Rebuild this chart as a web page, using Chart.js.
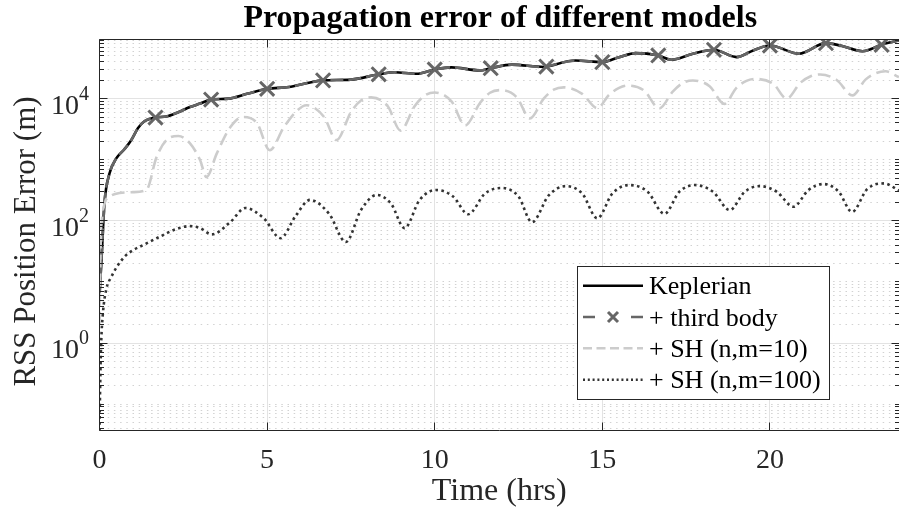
<!DOCTYPE html>
<html>
<head>
<meta charset="utf-8">
<script src="https://cdn.jsdelivr.net/npm/chart.js@4.4.1/dist/chart.umd.min.js"></script>
<style>
  html, body { margin: 0; padding: 0; background: #fff; }
  #plot { display: block; }
</style>
</head>
<body>
<canvas id="plot" width="899" height="517"></canvas>
<script>
// values (time in hours, error in metres)
const keplerTime = [0, 0.03, 0.07, 0.15, 0.3, 0.5, 0.75, 0.95, 1.15, 1.35, 1.67, 2.0, 2.35, 2.7, 3.0, 3.33, 3.85, 4.4, 5.0, 5.65, 6.2, 6.67, 7.5, 8.33, 8.8, 9.45, 10.0, 10.5, 11.35, 11.67, 12.3, 13.25, 13.33, 14.2, 15.0, 15.5, 16.0, 16.67, 17.05, 17.7, 18.33, 19.0, 19.5, 20.0, 20.87, 21.67, 22.1, 22.76, 23.33, 23.85];
const keplerErr = [6, 12, 30, 200, 600, 1050, 1500, 2100, 3300, 4300, 4900, 5100, 6000, 7300, 8300, 9650, 10000, 12000, 14500, 15500, 18000, 19900, 20500, 25000, 27000, 25500, 30000, 32500, 29000, 31500, 36000, 33000, 33500, 42000, 39600, 47800, 55600, 50900, 43300, 54300, 63100, 47800, 61500, 74100, 54300, 80900, 74000, 59800, 76200, 89500];

const thirdBodyTime = keplerTime;
const thirdBodyErr = [6, 12, 30, 200, 600, 1050, 1500, 2100, 3300, 4300, 4900, 5100, 6000, 7300, 8300, 9650, 10000, 12000, 14500, 15500, 18000, 19900, 20500, 25000, 27000, 25500, 30000, 32500, 29000, 31500, 36000, 33000, 33500, 42000, 39600, 47800, 55600, 50900, 43300, 54300, 63100, 47800, 61500, 74100, 54300, 80900, 74000, 59800, 76200, 89500];
const thirdBodyMarkers = [1.67, 3.33, 5.0, 6.67, 8.33, 10.0, 11.67, 13.33, 15.0, 16.67, 18.33, 20.0, 21.67, 23.33];

const sh10Time = [0, 0.05, 0.3, 0.6, 1.0, 1.4, 1.7, 2.0, 2.35, 2.7, 3.0, 3.19, 3.5, 3.9, 4.28, 4.7, 5.08, 5.5, 5.9, 6.17, 6.7, 7.07, 7.5, 7.8, 8.1, 8.6, 8.98, 9.4, 9.7, 10.0, 10.5, 10.91, 11.35, 11.65, 11.95, 12.45, 12.84, 13.25, 13.55, 13.85, 14.4, 14.85, 15.2, 15.5, 15.75, 16.25, 16.7, 17.1, 17.4, 17.7, 18.2, 18.64, 19.0, 19.3, 19.58, 20.1, 20.5, 20.9, 21.2, 21.5, 22.0, 22.46, 22.85, 23.15, 23.45, 23.85];
const sh10Err = [2, 80, 250, 285, 295, 320, 1100, 2100, 2450, 1850, 990, 520, 1270, 3400, 5000, 3950, 1430, 3400, 6400, 7800, 5000, 2100, 6000, 9300, 10500, 7500, 3000, 7500, 11200, 12600, 9000, 3650, 8500, 12500, 13800, 10500, 4750, 10000, 14000, 15300, 12000, 7000, 11500, 15000, 16400, 13500, 6900, 13000, 18000, 19800, 16000, 8200, 15000, 19500, 21000, 17500, 10000, 18000, 23000, 24900, 20000, 11300, 20500, 26000, 28000, 22500];

const sh100Time = [0, 0.02, 0.05, 0.1, 0.2, 0.35, 0.5, 0.75, 1.0, 1.3, 1.8, 2.25, 2.7, 3.0, 3.35, 3.9, 4.35, 4.9, 5.4, 5.85, 6.28, 6.85, 7.35, 7.8, 8.27, 8.7, 9.1, 9.55, 10.05, 10.55, 11.0, 11.5, 12.0, 12.5, 12.9, 13.4, 13.9, 14.4, 14.85, 15.3, 15.8, 16.35, 16.85, 17.3, 17.75, 18.3, 18.8, 19.25, 19.7, 20.2, 20.7, 21.15, 21.6, 22.05, 22.45, 22.9, 23.4, 23.85];
const sh100Err = [0.037, 0.2, 1, 3, 7.5, 12, 17, 26, 33, 40, 55, 72, 82, 76, 60, 95, 162, 110, 52, 120, 220, 130, 45, 150, 265, 190, 76, 220, 320, 250, 128, 280, 345, 250, 95, 260, 370, 280, 110, 280, 385, 300, 130, 300, 385, 300, 150, 300, 370, 300, 170, 320, 400, 300, 140, 330, 410, 315];

const xTickValues = [0, 5, 10, 15, 20];
const yLabelExponents = [0, 2, 4];
const seriesNames = ['Keplerian', '+ third body', '+ SH (n,m=10)', '+ SH (n,m=100)'];

const SERIF = '"Liberation Serif", "Times New Roman", serif';
const AXIS_COLOR = '#262626';

function pairs(ts, vs) {
    return ts.map((t, i) => ({ x: t, y: vs[i] }));
}

const crisp = v => Math.round(v - 0.5) + 0.5;

// grid like matlab: solid major lines, dotted minor lines on the log axis
const gridPlugin = {
    id: 'matlabGrid',
    beforeDatasetsDraw(chart) {
        const { ctx, chartArea: a, scales: { x, y } } = chart;
        ctx.save();
        ctx.beginPath();
        ctx.rect(a.left, a.top, a.right - a.left, a.bottom - a.top);
        ctx.clip();
        ctx.lineWidth = 1;

        ctx.strokeStyle = '#d2d2d2';
        ctx.setLineDash([1.5, 4.7]);
        for (let k = -2; k <= 5; k++) {
            for (let d = 1; d <= 9; d++) {
                if (d === 1 && yLabelExponents.includes(k)) continue;
                const py = crisp(y.getPixelForValue(d * Math.pow(10, k)));
                if (py <= a.top || py >= a.bottom) continue;
                ctx.beginPath();
                ctx.moveTo(a.left + 2, py);
                ctx.lineTo(a.right, py);
                ctx.stroke();
            }
        }

        ctx.setLineDash([]);
        ctx.strokeStyle = '#e3e3e3';
        yLabelExponents.forEach(k => {
            const py = crisp(y.getPixelForValue(Math.pow(10, k)));
            ctx.beginPath();
            ctx.moveTo(a.left, py);
            ctx.lineTo(a.right, py);
            ctx.stroke();
        });
        xTickValues.forEach(t => {
            const px = crisp(x.getPixelForValue(t));
            ctx.beginPath();
            ctx.moveTo(px, a.top);
            ctx.lineTo(px, a.bottom);
            ctx.stroke();
        });
        ctx.restore();
    }
};

// box, tick marks, y labels with exponents, titles and legend
const framePlugin = {
    id: 'matlabFrame',
    afterDatasetsDraw(chart) {
        const { ctx, chartArea: a, scales: { x, y } } = chart;
        const left = crisp(a.left), right = crisp(a.right), top = crisp(a.top), bottom = crisp(a.bottom);
        ctx.save();
        ctx.strokeStyle = AXIS_COLOR;
        ctx.lineWidth = 1;
        ctx.beginPath();
        ctx.moveTo(left, top); ctx.lineTo(right, top);
        ctx.moveTo(left, top); ctx.lineTo(left, bottom); ctx.lineTo(right, bottom);
        ctx.stroke();

        ctx.beginPath();
        xTickValues.forEach(t => {
            const px = crisp(x.getPixelForValue(t));
            ctx.moveTo(px, bottom); ctx.lineTo(px, bottom - 8);
            ctx.moveTo(px, top); ctx.lineTo(px, top + 8);
        });
        for (let k = -2; k <= 5; k++) {
            for (let d = 1; d <= 9; d++) {
                const py = crisp(y.getPixelForValue(d * Math.pow(10, k)));
                if (py < a.top || py > a.bottom) continue;
                const len = (d === 1 && yLabelExponents.includes(k)) ? 8 : 4.5;
                ctx.moveTo(left, py); ctx.lineTo(left + len, py);
                ctx.moveTo(right, py); ctx.lineTo(right - len, py);
            }
        }
        ctx.stroke();

        // y tick labels 10^k
        ctx.fillStyle = AXIS_COLOR;
        ctx.textBaseline = 'alphabetic';
        yLabelExponents.forEach(k => {
            const py = y.getPixelForValue(Math.pow(10, k));
            ctx.font = '20px ' + SERIF;
            const ew = ctx.measureText(String(k)).width;
            ctx.textAlign = 'left';
            ctx.fillText(String(k), 89 - ew, py + 1);
            ctx.font = '28px ' + SERIF;
            ctx.textAlign = 'right';
            ctx.fillText('10', 89 - ew, py + 15);
        });

        // y axis title
        ctx.save();
        ctx.translate(35, 241.5);
        ctx.rotate(-Math.PI / 2);
        ctx.font = '31px ' + SERIF;
        ctx.textAlign = 'center';
        ctx.fillText('RSS Position Error (m)', 0, 0);
        ctx.restore();

        // title
        ctx.fillStyle = '#000';
        ctx.font = 'bold 32px ' + SERIF;
        ctx.textAlign = 'center';
        ctx.fillText('Propagation error of different models', (a.left + a.right) / 2 + 1, 27);

        // legend
        const bx = 577.5, by = 266.5, bw = 252, bh = 133;
        ctx.fillStyle = '#fff';
        ctx.fillRect(bx, by, bw, bh);
        ctx.strokeStyle = AXIS_COLOR;
        ctx.strokeRect(bx, by, bw, bh);
        const rowBase = [294.3, 325.5, 356.8, 388.2];
        chart.data.datasets.forEach((ds, i) => {
            const ly = rowBase[i] - 8.5;
            ctx.save();
            ctx.strokeStyle = ds.borderColor;
            ctx.lineWidth = ds.borderWidth;
            ctx.setLineDash(ds.legendDash || []);
            ctx.beginPath();
            if (i === 1) {
                ctx.moveTo(583, ly); ctx.lineTo(595, ly);
                ctx.moveTo(631, ly); ctx.lineTo(643, ly);
            } else {
                ctx.moveTo(583, ly); ctx.lineTo(643, ly);
            }
            ctx.stroke();
            if (i === 1) {
                ctx.setLineDash([]);
                ctx.lineWidth = 3;
                ctx.beginPath();
                ctx.moveTo(608, ly - 5); ctx.lineTo(618, ly + 5);
                ctx.moveTo(608, ly + 5); ctx.lineTo(618, ly - 5);
                ctx.stroke();
            }
            ctx.restore();
            ctx.fillStyle = '#000';
            ctx.font = '26px ' + SERIF;
            ctx.textAlign = 'left';
            ctx.fillText(ds.label, 649, rowBase[i]);
        });
        ctx.restore();
    }
};

const ctx = document.getElementById('plot').getContext('2d');
new Chart(ctx, {
    type: 'line',
    data: {
        datasets: [
            {
                label: seriesNames[0],
                data: pairs(keplerTime, keplerErr),
                borderColor: '#000000',
                borderWidth: 2.6,
                pointRadius: 0,
                cubicInterpolationMode: 'monotone',
                order: 4
            },
            {
                label: seriesNames[1],
                data: pairs(thirdBodyTime, thirdBodyErr),
                borderColor: '#666666',
                borderWidth: 2.6,
                borderDash: [13, 5],
                legendDash: [],
                pointStyle: 'crossRot',
                pointRadius: c => thirdBodyMarkers.includes(c.raw && c.raw.x) ? 10 : 0,
                pointBorderColor: '#666666',
                pointBorderWidth: 3,
                cubicInterpolationMode: 'monotone',
                order: 3
            },
            {
                label: seriesNames[2],
                data: pairs(sh10Time, sh10Err),
                borderColor: '#cccccc',
                borderWidth: 2.6,
                borderDash: [13, 6],
                legendDash: [9, 4.5],
                pointRadius: 0,
                cubicInterpolationMode: 'monotone',
                order: 2
            },
            {
                label: seriesNames[3],
                data: pairs(sh100Time, sh100Err),
                borderColor: '#333333',
                borderWidth: 2.6,
                borderDash: [2.6, 3.4],
                legendDash: [2, 2.8],
                pointRadius: 0,
                cubicInterpolationMode: 'monotone',
                order: 1
            }
        ]
    },
    options: {
        responsive: false,
        animation: false,
        devicePixelRatio: 1,
        layout: { padding: { top: 39.5, right: 0, bottom: 0, left: 0 } },
        plugins: {
            legend: { display: false },
            title: { display: false },
            tooltip: { enabled: false }
        },
        scales: {
            x: {
                type: 'linear',
                min: 0,
                max: 23.85,
                grid: { display: false, drawTicks: false },
                border: { display: false },
                ticks: {
                    stepSize: 5,
                    includeBounds: false,
                    autoSkip: false,
                    maxRotation: 0,
                    padding: 16.5,
                    color: AXIS_COLOR,
                    font: { family: SERIF, size: 28, lineHeight: 1 }
                },
                title: {
                    display: true,
                    text: 'Time (hrs)',
                    color: AXIS_COLOR,
                    font: { family: SERIF, size: 32, lineHeight: 1 },
                    padding: { top: 0, bottom: 9 }
                },
                afterFit: s => { s.height = 86.5; }
            },
            y: {
                type: 'logarithmic',
                min: 0.037,
                max: 92900,
                grid: { display: false, drawTicks: false },
                border: { display: false },
                ticks: { display: false },
                afterFit: s => { s.width = 99.5; }
            }
        }
    },
    plugins: [gridPlugin, framePlugin]
});
</script>
</body>
</html>
